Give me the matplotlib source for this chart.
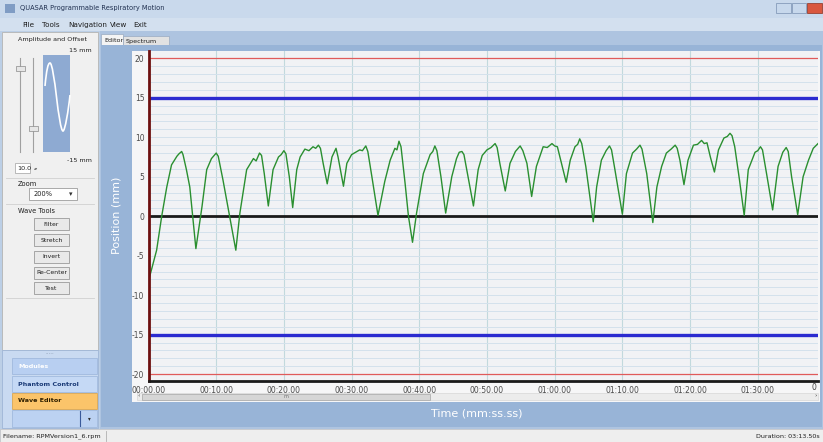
import matplotlib.pyplot as plt
from matplotlib.patches import Rectangle, PathPatch
from matplotlib.path import Path

plt.rcParams["font.family"] = ["DejaVu Sans"]

# breathing trace (seconds, mm)
t_s = [0.0, 1.2, 1.95, 2.7, 3.4, 4.2, 4.5, 4.9, 5.1, 5.6, 6.1, 7.0,
       7.9, 8.6, 9.3, 9.7, 10.0, 10.3, 11.0, 11.9, 12.9,
       13.5, 14.5, 15.5, 15.9, 16.4, 16.7, 17.1, 17.7,
       18.4, 19.2, 19.6, 20.0, 20.3, 20.8, 21.3,
       21.9, 22.4, 23.1, 23.7, 24.3, 24.7, 25.1, 25.4, 25.8, 26.4,
       27.1, 27.7, 28.0, 28.8,
       29.3, 30.0, 30.6, 31.2, 31.6, 32.1, 32.4, 33.0, 33.9,
       34.9, 35.7, 36.4, 36.7, 37.0, 37.3, 37.9, 38.4, 39.0,
       39.6, 40.6, 41.6, 42.0, 42.3, 42.6, 43.2, 43.9,
       44.8, 45.5, 45.9, 46.3, 46.6, 47.2, 48.0,
       48.7, 49.3, 50.0, 50.6, 51.2, 51.5, 51.9, 52.7,
       53.4, 54.2, 54.9, 55.3, 55.9, 56.6,
       57.3, 58.3, 58.9, 59.6, 60.0, 60.4, 61.0, 61.7,
       62.3, 63.0, 63.4, 63.7, 64.0, 64.6, 65.2, 65.7,
       66.2, 66.9, 67.6, 68.1, 68.4, 68.9, 70.0,
       70.6, 71.5, 72.1, 72.6, 72.9, 73.6, 74.5,
       75.1, 75.8, 76.5, 77.2, 77.8, 78.1, 78.5, 79.1,
       79.7, 80.5, 81.1, 81.7, 82.1, 82.5, 83.0, 83.6,
       84.2, 85.0, 85.5, 85.9, 86.2, 86.6, 87.3, 88.0,
       88.6, 89.6, 90.0, 90.4, 90.7, 91.3, 92.2,
       93.0, 93.7, 94.2, 94.5, 95.0, 95.9,
       96.7, 97.5, 98.2, 98.9]
pos_mm = [-8.2, -4.3, 0.0, 3.7, 6.5, 7.6, 7.9, 8.2, 7.8, 5.9, 3.7, -4.1,
          1.2, 5.9, 7.3, 7.7, 8.0, 7.6, 4.6, 0.4, -4.3,
          0.4, 5.9, 7.3, 7.0, 8.0, 7.7, 5.4, 1.3,
          5.9, 7.5, 7.8, 8.3, 7.9, 5.0, 1.1,
          5.9, 7.5, 8.5, 8.3, 8.8, 8.6, 9.0, 8.6, 6.7, 4.1,
          7.5, 8.6, 7.5, 3.8,
          6.7, 7.8, 8.1, 8.4, 8.3, 8.9, 8.2, 5.0, 0.1,
          4.4, 7.1, 8.6, 8.4, 9.5, 8.8, 4.2, 0.0, -3.3,
          0.4, 5.4, 7.8, 8.2, 8.9, 8.3, 5.0, 0.4,
          5.0, 7.3, 8.1, 8.2, 7.8, 5.0, 1.3,
          5.9, 7.7, 8.4, 8.7, 9.2, 8.7, 6.7, 3.2,
          6.7, 8.2, 8.9, 8.3, 6.7, 2.5,
          6.3, 8.8, 8.7, 9.2, 8.9, 8.8, 6.7, 4.3,
          7.1, 8.8, 9.1, 9.8, 9.2, 6.3, 2.5, -0.7,
          3.7, 7.1, 8.3, 8.9, 8.4, 5.9, 0.25,
          5.4, 8.0, 8.5, 9.0, 8.5, 5.4, -0.8,
          3.7, 6.3, 8.0, 8.5, 9.0, 8.6, 7.1, 4.0,
          7.1, 9.0, 9.1, 9.6, 9.2, 9.3, 7.5, 5.6,
          8.4, 9.9, 10.1, 10.5, 10.2, 8.8, 4.6, 0.1,
          5.9, 8.1, 8.3, 8.8, 8.4, 5.4, 0.8,
          6.3, 8.1, 8.7, 8.2, 5.0, 0.2,
          5.0, 7.1, 8.6, 9.2]

x_ticks = [0, 10, 20, 30, 40, 50, 60, 70, 80, 90]
x_labels = ["00:00.00", "00:10.00", "00:20.00", "00:30.00", "00:40.00",
            "00:50.00", "01:00.00", "01:10.00", "01:20.00", "01:30.00"]
y_ticks = [20, 15, 10, 5, 0, -5, -10, -15, -20]

menu_items = ["File", "Tools", "Navigation", "View", "Exit"]
menu_x = [22, 42, 68, 110, 133]
tool_buttons = ["Filter", "Stretch", "Invert", "Re-Center", "Test"]
tool_y = [224, 240, 257, 273, 288]

W, H = 823, 442
fig = plt.figure(figsize=(W / 100, H / 100), dpi=100)

# pixel-space layer for the window chrome
bg = fig.add_axes([0, 0, 1, 1])
bg.set_xlim(0, W)
bg.set_ylim(H, 0)
bg.axis("off")


def box(x, y, w, h, fc, ec="none", lw=0.6, z=1):
    r = Rectangle((x, y), w, h, facecolor=fc, edgecolor=ec, linewidth=lw, zorder=z)
    bg.add_patch(r)
    return r


def label(x, y, s, size=4.8, color="#1e1e1e", **kw):
    return bg.text(x, y, s, fontsize=size, color=color, va="center", zorder=5, **kw)


# window frame, title bar, menu
box(0, 0, W, H, "#bccfe6")
box(0, 0, W, 18, "#c9d9ec")
box(0, 18, W, 13, "#d3e0ef")
box(5, 4, 10, 9, "#7f9cc4")
label(20, 8, "QUASAR Programmable Respiratory Motion", size=4.8, color="#203050")
for name, mx in zip(menu_items, menu_x):
    label(mx, 25, name, size=5.2)
box(776, 3, 15, 10, "#c7d8ec", ec="#7890b0", lw=0.5)
box(792, 3, 14, 10, "#c7d8ec", ec="#7890b0", lw=0.5)
box(807, 3, 15, 10, "#d9573f", ec="#8a3020", lw=0.5)

# left tool panel
box(2, 32, 96, 318, "#f0f0f0", ec="#b4b4b4")
label(18, 40, "Amplitude and Offset", size=4.6)
label(92, 51, "15 mm", size=4.6, ha="right")
label(92, 160, "-15 mm", size=4.6, ha="right")
bg.plot([20, 20], [58, 152], color="#a0a0a0", lw=0.8, zorder=2)
bg.plot([33, 33], [58, 152], color="#a0a0a0", lw=0.8, zorder=2)
box(16, 66, 9, 5, "#e6e6e6", ec="#8a8a8a", lw=0.5, z=3)
box(29, 126, 9, 5, "#e6e6e6", ec="#8a8a8a", lw=0.5, z=3)
box(43, 55, 27, 97, "#8eaad2", z=2)
wave = Path([(45, 86), (46.5, 70), (48, 63), (50, 63),
             (52, 63), (54.5, 80), (56.5, 97),
             (58.5, 114), (61, 131), (63, 131),
             (65, 131), (68.5, 110), (70, 95)],
            [Path.MOVETO] + [Path.CURVE4] * 12)
bg.add_patch(PathPatch(wave, facecolor="none", edgecolor="white", lw=1.2, zorder=3))
box(15, 163, 15, 10, "white", ec="#a0a0a0", lw=0.5)
label(17, 168, "10.0", size=4.6)
label(34, 168, "\u25b4\u25be", size=3, color="#707070")
bg.plot([6, 94], [178, 178], color="#d0d0d0", lw=0.6)
label(18, 184, "Zoom", size=4.8)
box(29, 188, 48, 12, "white", ec="#8a8a8a", lw=0.5)
label(34, 194, "200%", size=4.8)
label(71, 194, "\u25be", size=5, color="#303030", ha="center")
bg.plot([6, 94], [204, 204], color="#d0d0d0", lw=0.6)
label(18, 211, "Wave Tools", size=4.8)
for name, by in zip(tool_buttons, tool_y):
    box(34, by - 6, 35, 12, "#e9e9e9", ec="#9a9a9a", lw=0.6)
    label(51.5, by, name, size=4.4, ha="center")
bg.plot([6, 94], [298, 298], color="#d0d0d0", lw=0.6)

# navigation buttons
box(2, 350, 96, 78, "#c9daf1", ec="#9fb6d6")
label(50, 354, "\u00b7\u00b7\u00b7\u00b7\u00b7", size=4, color="#8090a8", ha="center")
box(12, 358, 85, 16, "#b8cff1", ec="#9ab4da", lw=0.5)
label(18, 366, "Modules", size=4.6, color="white", fontweight="bold")
box(12, 376, 85, 16, "#c5d9f5", ec="#9ab4da", lw=0.5)
label(18, 384, "Phantom Control", size=4.6, color="#1c3c78", fontweight="bold")
box(12, 393, 85, 16, "#fbc46a", ec="#d9a040", lw=0.5)
label(18, 401, "Wave Editor", size=4.6, color="#302000", fontweight="bold")
box(12, 410, 85, 17, "#bcd2f2", ec="#9ab4da", lw=0.5)
bg.plot([80, 80], [411, 426], color="#3a5a9a", lw=0.8)
label(89, 419, "\u25be", size=4, color="#303030", ha="center")

# editor tab area and chart frame
box(100, 31, 723, 398, "#aec4e0")
box(101, 34, 22, 11, "#f4f4f4", ec="#9aaac0", lw=0.5)
label(104, 40, "Editor", size=4.6)
box(123, 36, 46, 9, "#e2e2e2", ec="#9aaac0", lw=0.5)
label(126, 41, "Spectrum", size=4.6)
box(101, 45, 721, 382, "#98b4d7")
box(132, 50.7, 688, 351, "#f6f6f7")
label(117, 215, "Position (mm)", size=8, color="white", ha="center", rotation=90)
label(477, 413, "Time (mm:ss.ss)", size=8, color="white", ha="center")

# scroll bar under the axis
box(137, 393, 681, 7, "#ececec", ec="#d0d0d0", lw=0.4)
box(142, 393.5, 288, 6, "#d6d6d6", ec="#a6a6a6", lw=0.5)
label(286, 396, "m", size=3.5, color="#707070", ha="center")
label(139, 396, "\u2039", size=4.5, color="#404040", ha="center")
label(816, 396, "\u203a", size=4.5, color="#404040", ha="center")
label(812, 387, "0", size=5.5, color="#404040")

# status bar
box(0, 429, W, 13, "#eeeeee", ec="#c4c4c4", lw=0.5)
label(3, 436, "Filename: RPMVersion1_6.rpm", size=4.6)
bg.plot([106, 106], [431, 441], color="#b0b0b0", lw=0.6)
label(820, 436, "Duration: 03:13.50s", size=4.6, ha="right")

# the chart itself
ax = fig.add_axes([148.5 / W, 1 - 380.5 / H, (818 - 148.5) / W, (380.5 - 50.7) / H])
ax.set_facecolor("#f1f2f5")
ax.set_xlim(0, 98.9)
ax.set_ylim(-20.8, 20.96)
ax.set_yticks(range(-20, 21), minor=True)
ax.set_yticks(y_ticks)
ax.set_yticklabels([str(v) for v in y_ticks])
ax.set_xticks(x_ticks)
ax.set_xticklabels(x_labels)
ax.grid(which="both", axis="y", color="#d4e1ec", lw=0.7)
ax.grid(which="major", axis="x", color="#c2d9dd", lw=0.8)
ax.set_axisbelow(True)
ax.tick_params(which="both", length=0, labelsize=5.5, labelcolor="#4a4a4a")
ax.tick_params(axis="y", pad=3)
ax.tick_params(axis="x", pad=4)
for side in ["top", "right"]:
    ax.spines[side].set_visible(False)
ax.spines["left"].set_color("#6e1010")
ax.spines["left"].set_linewidth(2)
ax.spines["bottom"].set_color("#1a1a1a")
ax.spines["bottom"].set_linewidth(2)

ax.axhline(20, color="#e05a5a", lw=0.9)
ax.axhline(-20, color="#e05a5a", lw=0.9)
ax.axhline(15, color="#2b2bd0", lw=2.4)
ax.axhline(-15, color="#2b2bd0", lw=2.4)
ax.axhline(0, color="#1a1a1a", lw=2.0)
ax.plot(t_s, pos_mm, color="#2a8f30", lw=1.0)

fig.savefig("out.png", dpi=100)
